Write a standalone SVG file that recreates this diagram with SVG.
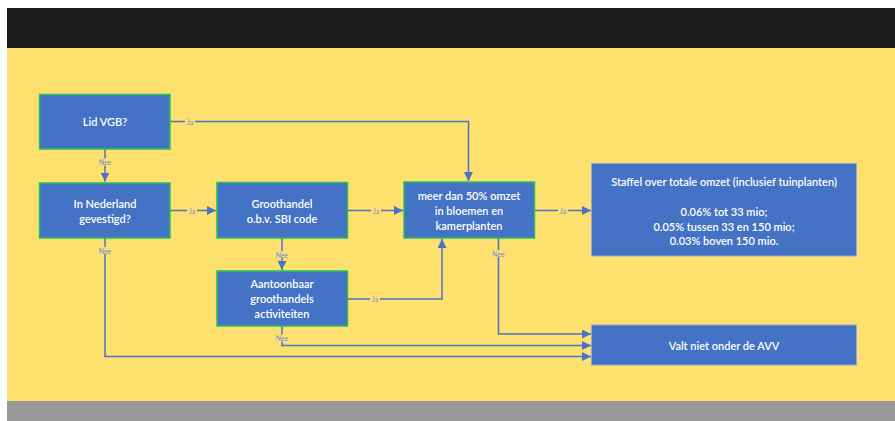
<svg xmlns="http://www.w3.org/2000/svg" width="895" height="421" viewBox="0 0 895 421">
<style>
.node{fill:#4472C4;stroke:#27C15A;stroke-width:1.5}
.plain{fill:#4472C4;stroke:#8FA9DC;stroke-width:1}
.t{font-family:Lato,"Open Sans",sans-serif;font-size:11px;fill:#FFFFFF;text-anchor:middle;dominant-baseline:central;font-weight:600}
.c{fill:none;stroke:#4A72C8;stroke-width:1.5}
.l{font-family:Lato,"Open Sans",sans-serif;font-size:7px;fill:#6E8FD8;text-anchor:middle;dominant-baseline:central}
.lb{fill:#FDE06E}
</style>
<defs>
<marker id="a" viewBox="0 0 10 10" refX="10" refY="5" markerWidth="5" markerHeight="5" orient="auto" markerUnits="userSpaceOnUse"><path d="M0,0L10,5L0,10z" fill="#4A72C8"/></marker>
<marker id="ar" viewBox="0 0 10 10" refX="10" refY="5" markerWidth="9" markerHeight="9" orient="auto" markerUnits="userSpaceOnUse"><path d="M0,0L10,5L0,10z" fill="#4A72C8"/></marker>
</defs>
<rect x="0" y="0" width="895" height="421" fill="#FFFFFF"/>
<rect x="7" y="8" width="888" height="40" fill="#1B1B1B"/>
<rect x="7" y="48" width="888" height="353" fill="#FDE06E"/>
<rect x="7" y="401" width="888" height="20" fill="#999999"/>

<g id="connectors">
<path class="c" d="M170,121.5H468.5V181" marker-end="url(#ar)"/>
<path class="c" d="M105,149V181.5" marker-end="url(#ar)"/>
<path class="c" d="M170,210.5H216" marker-end="url(#ar)"/>
<path class="c" d="M347.5,210.5H403" marker-end="url(#ar)"/>
<path class="c" d="M282,238V270" marker-end="url(#ar)"/>
<path class="c" d="M347.5,299H442V239" marker-end="url(#ar)"/>
<path class="c" d="M534.5,210.5H591" marker-end="url(#ar)"/>
<path class="c" d="M498.5,238V334H591" marker-end="url(#ar)"/>
<path class="c" d="M282,326V345.5H591" marker-end="url(#ar)"/>
<path class="c" d="M105,238V356.5H591" marker-end="url(#ar)"/>
<g>
<rect class="lb" x="185" y="118" width="10" height="7"/><text class="l" x="190" y="121.5">Ja</text>
<rect class="lb" x="96" y="158.5" width="18" height="7"/><text class="l" x="105" y="162">Nee</text>
<rect class="lb" x="187" y="207" width="10" height="7"/><text class="l" x="192" y="210.5">Ja</text>
<rect class="lb" x="371" y="207" width="10" height="7"/><text class="l" x="376" y="210.5">Ja</text>
<rect class="lb" x="273" y="251" width="18" height="7"/><text class="l" x="282" y="254.5">Nee</text>
<rect class="lb" x="370" y="295.5" width="10" height="7"/><text class="l" x="375" y="299">Ja</text>
<rect class="lb" x="558" y="207" width="10" height="7"/><text class="l" x="563" y="210.5">Ja</text>
<rect class="lb" x="489.5" y="250" width="18" height="7"/><text class="l" x="498.5" y="253.5">Nee</text>
<rect class="lb" x="273" y="334.5" width="18" height="7"/><text class="l" x="282" y="338">Nee</text>
<rect class="lb" x="96" y="247" width="18" height="7"/><text class="l" x="105" y="250.5">Nee</text>
</g>
</g>

<g id="lid-vgb">
<rect class="node" x="39.5" y="94.5" width="130.5" height="54.5"/>
<text class="t" x="105" y="121.5">Lid VGB?</text>
</g>
<g id="in-nederland">
<rect class="node" x="39.5" y="183" width="130.5" height="55"/>
<text class="t" x="105" y="203.5">In Nederland</text>
<text class="t" x="105" y="218.5">gevestigd?</text>
</g>
<g id="groothandel">
<rect class="node" x="217" y="182.5" width="130.5" height="55.5"/>
<text class="t" x="282" y="203.5">Groothandel</text>
<text class="t" x="282" y="218">o.b.v. SBI code</text>
</g>
<g id="aantoonbaar">
<rect class="node" x="217" y="271" width="130.5" height="55"/>
<text class="t" x="282" y="283.5">Aantoonbaar</text>
<text class="t" x="282" y="298.5">groothandels</text>
<text class="t" x="282" y="313.5">activiteiten</text>
</g>
<g id="meer-dan-50">
<rect class="node" x="404" y="182" width="130.5" height="56"/>
<text class="t" x="469" y="195.5">meer dan 50% omzet</text>
<text class="t" x="469" y="210">in bloemen en</text>
<text class="t" x="469" y="225">kamerplanten</text>
</g>
<g id="staffel">
<rect class="plain" x="591.5" y="163.5" width="265" height="92.5"/>
<text class="t" x="724" y="181">Staffel over totale omzet (inclusief tuinplanten)</text>
<text class="t" x="724" y="211.5">0.06% tot 33 mio;</text>
<text class="t" x="724" y="226">0.05% tussen 33 en 150 mio;</text>
<text class="t" x="724" y="240.5">0.03% boven 150 mio.</text>
</g>
<g id="valt-niet">
<rect class="plain" x="591.5" y="325" width="265" height="40"/>
<text class="t" x="724" y="345">Valt niet onder de AVV</text>
</g>
</svg>
